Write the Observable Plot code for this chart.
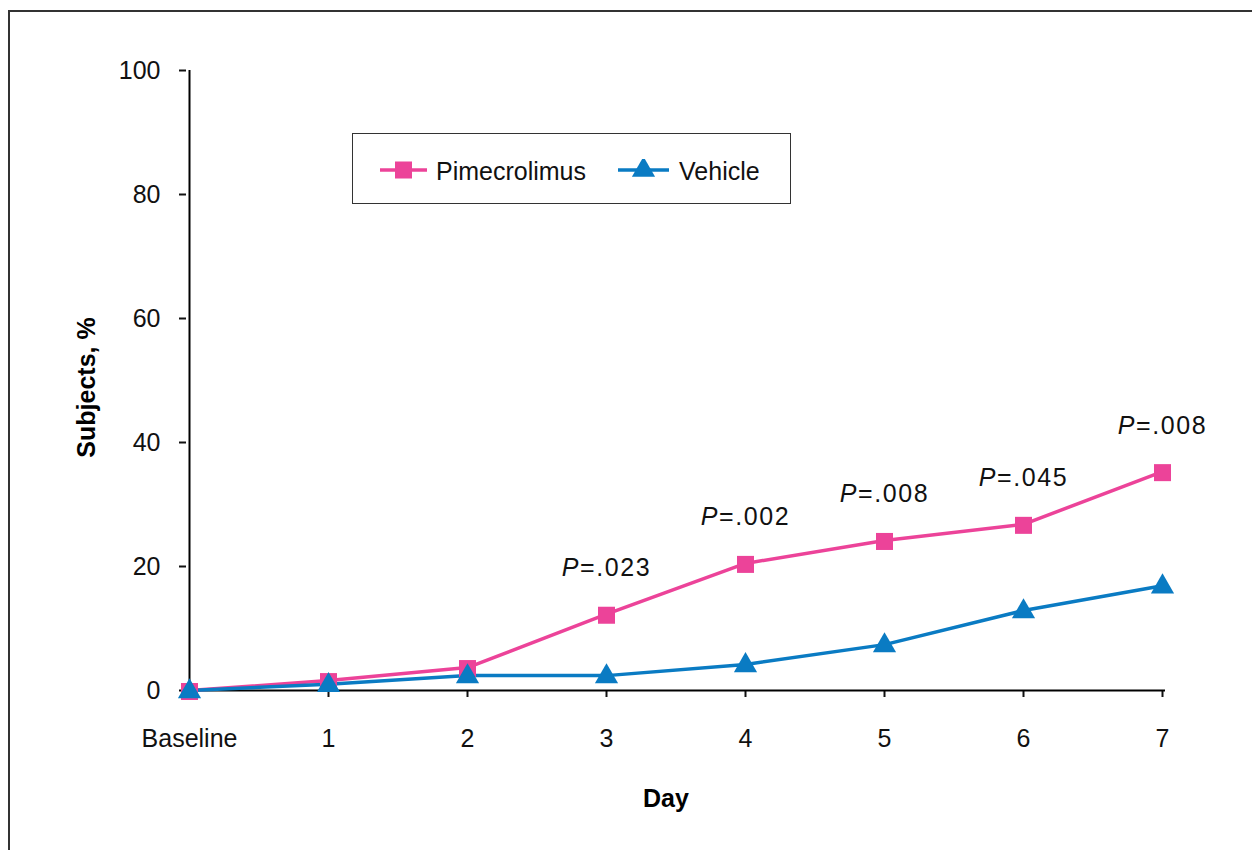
<!DOCTYPE html>
<html><head><meta charset="utf-8">
<script src="https://cdn.jsdelivr.net/npm/d3@7"></script>
<script src="https://cdn.jsdelivr.net/npm/@observablehq/plot@0.6"></script>
<style>
body{margin:0;background:#fff;font-family:"Liberation Sans",Arial,sans-serif;}
#wrap{position:relative;width:1252px;height:850px;overflow:hidden;}
#frame{position:absolute;left:8px;top:10px;width:1260px;height:860px;border-top:2px solid #333;border-left:2px solid #333;}
#chart{position:absolute;left:0;top:0;}
#legend{position:absolute;left:352px;top:133px;width:437px;height:63px;padding-top:6px;border:1px solid #333;background:#fff;display:flex;align-items:center;font-size:25px;color:#111;box-sizing:content-box;}
#legend .item{display:flex;align-items:center;}
#legend svg{display:block;}
</style></head><body>
<div id="wrap"><div id="frame"></div><div id="chart"></div><div id="legend"></div></div>
<script>
const days = ["Baseline", "1", "2", "3", "4", "5", "6", "7"];
const pimecrolimus = [0, 1.6, 3.7, 12.3, 20.5, 24.2, 26.8, 35.3];
const vehicle = [0, 1.0, 2.4, 2.4, 4.2, 7.4, 12.9, 16.9];
const pValueDays = ["3", "4", "5", "6", "7"];
const pValues = [".023", ".002", ".008", ".045", ".008"];
const yTicks = [0, 20, 40, 60, 80, 100];
const seriesNames = ["Pimecrolimus", "Vehicle"];
const seriesColors = ["#EC4399", "#0A7BC3"];
const seriesSymbols = ["square", "triangle"];

const rows = days.map((d, i) => ({day: d, pim: pimecrolimus[i], veh: vehicle[i]}));
const ann = pValueDays.map((d, i) => ({day: d, p: pValues[i], y: pimecrolimus[days.indexOf(d)]}));
const font = '"Liberation Sans", Arial, sans-serif';

const chart = Plot.plot({
  width: 1252, height: 850,
  marginLeft: 186, marginRight: 87, marginTop: 70, marginBottom: 160,
  style: {fontFamily: font, fontSize: "25px", color: "#111", background: "transparent", overflow: "visible"},
  x: {type: "point", domain: days, padding: 0},
  y: {domain: [0, 100]},
  marks: [
    Plot.axisY({ticks: yTicks, tickSize: 7, tickPadding: 19, label: null, strokeWidth: 2, fontSize: 25}),
    Plot.axisX({tickSize: 0, tickPadding: 39, label: null, fontSize: 25}),
    Plot.axisX({ticks: days.slice(1), tickSize: 7, tickFormat: () => "", label: null, strokeWidth: 2}),
    Plot.ruleY([0], {stroke: "#000", strokeWidth: 2}),
    Plot.ruleX(["Baseline"], {stroke: "#000", strokeWidth: 2}),
    Plot.line(rows, {x: "day", y: "pim", stroke: seriesColors[0], strokeWidth: 3.5}),
    Plot.line(rows, {x: "day", y: "veh", stroke: seriesColors[1], strokeWidth: 3.5}),
    Plot.dot(rows, {x: "day", y: "pim", symbol: "square", r: 9.6, fill: seriesColors[0], dy: 1}),
    Plot.dot(rows, {x: "day", y: "veh", symbol: "triangle", r: 8.6, fill: seriesColors[1], dy: 1}),
    Plot.text(ann, {x: "day", y: "y", text: d => "P=" + d.p, dy: -46, fontSize: 25, fill: "#111"}),
    Plot.text(["Subjects, %"], {text: d => d, frameAnchor: "left", textAnchor: "middle", dx: -100, dy: 7, rotate: -90, fontWeight: "bold", fontSize: 25, fill: "#000"}),
    Plot.text(["Day"], {text: d => d, frameAnchor: "bottom", dx: -10, dy: 116, fontWeight: "bold", fontSize: 25, fill: "#000"})
  ]
});
document.getElementById("chart").appendChild(chart);

// italic "P" in the P-value annotations
d3.select(chart).selectAll("text").each(function() {
  const t = this.textContent;
  if (/^P=/.test(t) && this.childElementCount === 0) {
    const rest = t.slice(1);
    this.textContent = "";
    d3.select(this).style("letter-spacing", "1.6px");
    d3.select(this).append("tspan").attr("font-style", "italic").text("P");
    d3.select(this).append("tspan").text(rest);
  }
});

// legend
const legend = d3.select("#legend");
const swW = [47, 51], pads = [27, 32], gaps = [9, 10];
seriesNames.forEach((name, i) => {
  const item = legend.append("div").attr("class", "item").style("margin-left", pads[i] + "px");
  const s = item.append("svg").attr("width", swW[i]).attr("height", 26);
  s.append("line").attr("x1", 0).attr("x2", swW[i]).attr("y1", 11).attr("y2", 11)
    .attr("stroke", seriesColors[i]).attr("stroke-width", 3.5);
  const r = i === 0 ? 9.6 : 8.6;
  s.append("path").attr("transform", `translate(${swW[i] / 2},11)`)
    .attr("d", d3.symbol(i === 0 ? d3.symbolSquare : d3.symbolTriangle, Math.PI * r * r)())
    .attr("fill", seriesColors[i]);
  item.append("span").style("margin-left", gaps[i] + "px").text(name);
});
</script>
</body></html>
